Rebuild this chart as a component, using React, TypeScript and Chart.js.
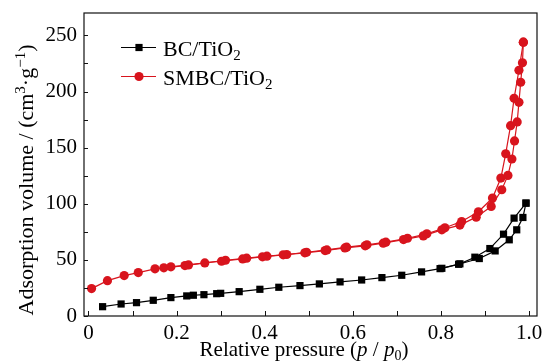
import { useEffect, useRef } from 'react';
import { Chart, registerables } from 'chart.js';

Chart.register(...registerables);

const FONT = '"Liberation Serif", "Times New Roman", serif';
const RED = '#d8141d';
const BLACK = '#000000';

// Tick values and labels
const xTickValues = [0, 0.2, 0.4, 0.6, 0.8, 1.0];
const xTickLabels = ['0', '0.2', '0.4', '0.6', '0.8', '1.0'];
const xMinorTicks = [0.1, 0.3, 0.5, 0.7, 0.9];
const yTickValues = [0, 50, 100, 150, 200, 250];
const yTickLabels = ['0', '50', '100', '150', '200', '250'];
const yMinorTicks = [25, 75, 125, 175, 225];

// BC/TiO2 adsorption branch
const bcAdsX = [0.032, 0.074, 0.109, 0.147, 0.187, 0.223, 0.238, 0.262, 0.291, 0.300, 0.342, 0.389, 0.432, 0.480, 0.524, 0.571, 0.620, 0.666, 0.711, 0.756, 0.798, 0.840, 0.887, 0.923, 0.955, 0.972, 0.986, 0.993];
const bcAdsY = [8.3, 10.7, 11.9, 14.0, 16.4, 17.9, 18.5, 19.0, 19.9, 20.2, 21.7, 23.8, 25.6, 27.1, 28.6, 30.4, 32.1, 34.2, 36.3, 39.3, 42.2, 46.1, 51.2, 58.0, 67.9, 76.8, 87.8, 100.6];
// BC/TiO2 desorption branch
const bcDesX = [0.993, 0.966, 0.942, 0.911, 0.877, 0.843, 0.802];
const bcDesY = [100.6, 87.2, 72.9, 60.1, 52.4, 46.5, 42.5];

// SMBC/TiO2 adsorption branch
const smAdsX = [0.007, 0.043, 0.081, 0.113, 0.151, 0.171, 0.219, 0.264, 0.302, 0.350, 0.395, 0.442, 0.491, 0.537, 0.582, 0.628, 0.669, 0.715, 0.760, 0.802, 0.843, 0.880, 0.914, 0.938, 0.952, 0.961, 0.967, 0.973, 0.977, 0.981, 0.985, 0.987];
const smAdsY = [24.4, 31.5, 36.0, 38.7, 42.0, 42.9, 44.9, 47.3, 48.8, 50.9, 52.7, 54.5, 56.3, 58.3, 60.7, 62.5, 64.9, 68.1, 71.4, 76.8, 81.0, 88.1, 97.6, 112.5, 125.3, 139.9, 156.0, 172.9, 190.4, 208.3, 225.6, 244.0];
// SMBC/TiO2 desorption branch
const smDesX = [0.987, 0.977, 0.966, 0.958, 0.947, 0.936, 0.917, 0.885, 0.847, 0.809, 0.768, 0.724, 0.675, 0.632, 0.586, 0.541, 0.495, 0.450, 0.405, 0.359, 0.311, 0.227, 0.187];
const smDesY = [244.0, 219.0, 194.0, 169.6, 144.6, 122.9, 105.1, 92.9, 84.2, 78.6, 73.2, 69.3, 65.8, 63.4, 61.3, 58.9, 56.8, 54.8, 53.3, 51.5, 49.7, 45.5, 43.8];

const seriesNames = ['BC/TiO', 'SMBC/TiO'];

type Seg = { t: string; it?: boolean; sub?: boolean; sup?: boolean };

function segFont(s: Seg, size: number) {
  const sz = s.sub || s.sup ? Math.round(size * 0.66) : size;
  return `${s.it ? 'italic ' : ''}${sz}px ${FONT}`;
}

function richWidth(ctx: CanvasRenderingContext2D, segs: Seg[], size: number) {
  let w = 0;
  for (const s of segs) {
    ctx.font = segFont(s, size);
    w += ctx.measureText(s.t).width;
  }
  return w;
}

function drawRich(ctx: CanvasRenderingContext2D, segs: Seg[], x: number, y: number, size: number, center: boolean) {
  const w = richWidth(ctx, segs, size);
  let cx = center ? x - w / 2 : x;
  ctx.textAlign = 'left';
  ctx.textBaseline = 'alphabetic';
  for (const s of segs) {
    ctx.font = segFont(s, size);
    const dy = s.sub ? size * 0.2 : s.sup ? -size * 0.36 : 0;
    ctx.fillText(s.t, cx, y + dy);
    cx += ctx.measureText(s.t).width;
  }
}

const toPoints = (xs: number[], ys: number[]) => xs.map((x, i) => ({ x, y: ys[i] }));

const zeroPad = (s: any) => {
  s.paddingLeft = 0;
  s.paddingRight = 0;
  s.paddingTop = 0;
  s.paddingBottom = 0;
};

const decorPlugin = {
  id: 'decor',
  afterDraw(chart: any) {
    const ctx: CanvasRenderingContext2D = chart.ctx;
    const { left, right, top, bottom } = chart.chartArea;
    const xs = chart.scales.x;
    const ys = chart.scales.y;
    ctx.save();
    // frame
    ctx.strokeStyle = '#111';
    ctx.lineWidth = 1.2;
    ctx.strokeRect(left, top, right - left, bottom - top);
    // inward ticks
    ctx.lineWidth = 1;
    ctx.beginPath();
    for (const v of [...xTickValues, ...xMinorTicks]) {
      const p = Math.round(xs.getPixelForValue(v)) + 0.5;
      ctx.moveTo(p, bottom);
      ctx.lineTo(p, bottom - 5);
    }
    for (const v of [...yTickValues, ...yMinorTicks]) {
      const p = Math.round(ys.getPixelForValue(v)) + 0.5;
      ctx.moveTo(left, p);
      ctx.lineTo(left + 4, p);
    }
    ctx.stroke();

    ctx.fillStyle = '#000';
    // x title
    drawRich(ctx, [
      { t: 'Relative pressure (' },
      { t: 'p', it: true },
      { t: ' / ' },
      { t: 'p', it: true },
      { t: '0', sub: true },
      { t: ')' },
    ], 304, 356, 21, true);
    // y title
    ctx.save();
    ctx.translate(33, 180);
    ctx.rotate(-Math.PI / 2);
    drawRich(ctx, [
      { t: 'Adsorption volume / (cm' },
      { t: '3', sup: true },
      { t: '\u00b7g' },
      { t: '\u22121', sup: true },
      { t: ')' },
    ], 0, 0, 22, true);
    ctx.restore();

    // legend
    const rows = [
      { name: seriesNames[0], color: BLACK, shape: 'rect', y: 47.5 },
      { name: seriesNames[1], color: RED, shape: 'circle', y: 76.5 },
    ];
    for (const r of rows) {
      ctx.strokeStyle = r.color;
      ctx.fillStyle = r.color;
      ctx.lineWidth = 1.2;
      ctx.beginPath();
      ctx.moveTo(121, r.y);
      ctx.lineTo(156, r.y);
      ctx.stroke();
      if (r.shape === 'rect') {
        ctx.fillRect(139 - 3.6, r.y - 3.6, 7.2, 7.2);
      } else {
        ctx.beginPath();
        ctx.arc(139, r.y, 4.6, 0, Math.PI * 2);
        ctx.fill();
      }
      ctx.fillStyle = '#000';
      drawRich(ctx, [{ t: r.name }, { t: '2', sub: true }], 163, r.y + 8, 22, false);
    }
    ctx.restore();
  },
};

export default function App() {
  const ref = useRef<HTMLCanvasElement | null>(null);
  useEffect(() => {
    if (!ref.current) return;
    const common = { showLine: true, borderWidth: 1.2, pointBorderWidth: 0 };
    const chart = new Chart(ref.current, {
      type: 'scatter',
      data: {
        datasets: [
          { ...common, label: 'BC/TiO2 ads', data: toPoints(bcAdsX, bcAdsY), borderColor: BLACK, backgroundColor: BLACK, pointStyle: 'rect', pointRadius: 5.1 },
          { ...common, label: 'BC/TiO2 des', data: toPoints(bcDesX, bcDesY), borderColor: BLACK, backgroundColor: BLACK, pointStyle: 'rect', pointRadius: 5.1 },
          { ...common, label: 'SMBC/TiO2 ads', data: toPoints(smAdsX, smAdsY), borderColor: RED, backgroundColor: RED, pointStyle: 'circle', pointRadius: 4.6 },
          { ...common, label: 'SMBC/TiO2 des', data: toPoints(smDesX, smDesY), borderColor: RED, backgroundColor: RED, pointStyle: 'circle', pointRadius: 4.6 },
        ],
      },
      options: {
        animation: false,
        responsive: false,
        events: [],
        layout: { padding: { top: 13, right: 6, left: 0, bottom: 0 } },
        plugins: { legend: { display: false }, tooltip: { enabled: false } },
        scales: {
          x: {
            type: 'linear',
            min: -0.0102,
            max: 1.018,
            afterFit: (s: any) => { s.height = 47; zeroPad(s); },
            afterBuildTicks: (s: any) => { s.ticks = xTickValues.map((v) => ({ value: v })); },
            grid: { display: false, drawTicks: false },
            border: { display: false },
            ticks: {
              padding: 5,
              maxRotation: 0,
              autoSkip: false,
              color: '#000',
              font: { family: FONT, size: 21 },
              callback: (v: any) => {
                const i = xTickValues.findIndex((t) => Math.abs(t - Number(v)) < 1e-9);
                return i >= 0 ? xTickLabels[i] : '';
              },
            },
          },
          y: {
            type: 'linear',
            min: 0,
            max: 270,
            afterFit: (s: any) => { s.width = 84; zeroPad(s); },
            afterBuildTicks: (s: any) => { s.ticks = yTickValues.map((v) => ({ value: v })); },
            grid: { display: false, drawTicks: false },
            border: { display: false },
            ticks: {
              padding: 7,
              autoSkip: false,
              color: '#000',
              font: { family: FONT, size: 21 },
              callback: (v: any) => {
                const i = yTickValues.findIndex((t) => Math.abs(t - Number(v)) < 1e-9);
                return i >= 0 ? yTickLabels[i] : '';
              },
            },
          },
        },
      },
      plugins: [decorPlugin],
    } as any);
    return () => chart.destroy();
  }, []);
  return (
    <div style={{ position: 'fixed', left: 0, top: 0, width: 543, height: 363, background: '#fff' }}>
      <canvas ref={ref} width={543} height={363} style={{ display: 'block', width: 543, height: 363 }} />
    </div>
  );
}
